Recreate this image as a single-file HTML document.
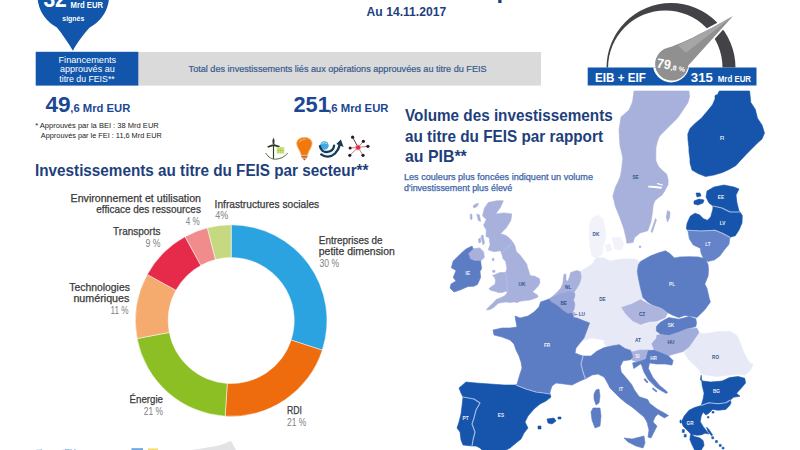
<!DOCTYPE html>
<html lang="fr"><head><meta charset="utf-8"><title>FEIS – Investissements par secteur et par pays</title>
<style>html,body{margin:0;padding:0;background:#fff}body{width:800px;height:450px;overflow:hidden}svg{display:block}</style>
</head><body>
<svg width="800" height="450" viewBox="0 0 800 450" font-family="'Liberation Sans', sans-serif">
<rect width="800" height="450" fill="#ffffff"/>
<g id="title">
<text x="238.00" y="-3.20" font-size="27" fill="#1e3f7c" font-weight="bold" textLength="347.00" lengthAdjust="spacingAndGlyphs">FEIS : les chiffres clés par État</text>
</g>
<text x="366.60" y="16.30" font-size="12" fill="#1e3f7c" font-weight="bold" textLength="79.60" lengthAdjust="spacingAndGlyphs">Au 14.11.2017</text>
<path d="M72.9,50.8 C69,44 63,35 56.9,27.5 A35.8,35.8 0 1 1 89.7,27.5 C83,35 76.5,43.5 72.9,50.8Z" fill="#1256ab"/>
<text x="43.40" y="7.00" font-size="23" fill="#fff" font-weight="bold" textLength="23.40" lengthAdjust="spacingAndGlyphs">32</text>
<text x="70.60" y="7.60" font-size="9" fill="#fff" font-weight="bold" textLength="32.40" lengthAdjust="spacingAndGlyphs">Mrd EUR</text>
<text x="62.30" y="21.30" font-size="7.5" fill="#fff" font-weight="bold" textLength="22.00" lengthAdjust="spacingAndGlyphs">signés</text>
<rect x="138" y="52" width="403" height="33.6" fill="#dadada"/>
<rect x="35.7" y="51.8" width="102.6" height="33.8" fill="#1256ab"/>
<text x="58.50" y="63.00" font-size="8.2" fill="#fff" font-weight="normal" textLength="57.70" lengthAdjust="spacingAndGlyphs">Financements</text>
<text x="60.00" y="72.20" font-size="8.2" fill="#fff" font-weight="normal" textLength="54.70" lengthAdjust="spacingAndGlyphs">approuvés au</text>
<text x="59.30" y="81.60" font-size="8.2" fill="#fff" font-weight="normal" textLength="55.40" lengthAdjust="spacingAndGlyphs">titre du FEIS**</text>
<text x="188.60" y="72.20" font-size="9" fill="#375a8f" font-weight="normal" textLength="298.00" lengthAdjust="spacingAndGlyphs" stroke="#375a8f" stroke-width="0.2">Total des investissements liés aux opérations approuvées au titre du FEIS</text>
<text x="45.50" y="112.20" font-size="22" fill="#1b4793" font-weight="bold" textLength="25.20" lengthAdjust="spacingAndGlyphs">49</text>
<text x="70.30" y="112.20" font-size="10.3" fill="#1b4793" font-weight="bold" textLength="60.00" lengthAdjust="spacingAndGlyphs">,6 Mrd EUR</text>
<text x="293.50" y="112.30" font-size="22" fill="#1b4793" font-weight="bold" textLength="36.30" lengthAdjust="spacingAndGlyphs">251</text>
<text x="328.20" y="112.30" font-size="10.3" fill="#1b4793" font-weight="bold" textLength="60.30" lengthAdjust="spacingAndGlyphs">,6 Mrd EUR</text>
<text x="35.20" y="128.00" font-size="6.8" fill="#222" font-weight="normal" textLength="123.60" lengthAdjust="spacingAndGlyphs">* Approuvés par la BEI : 38 Mrd EUR</text>
<text x="40.80" y="138.20" font-size="6.8" fill="#222" font-weight="normal" textLength="121.00" lengthAdjust="spacingAndGlyphs">Approuvés par le FEI : 11,6 Mrd EUR</text>
<g id="icons">
<path d="M273.5,144.6 V158.8" stroke="#2c3a28" stroke-width="1.15" fill="none"/>
<path d="M273.5,137.4 L274.6,140.6 L274.2,145 L272.8,145 L272.4,140.6Z M273.3,143.9 L267.4,146.3 L267.9,147.7 L273.7,145.9Z M273.7,143.9 L279.8,146.1 L279.3,147.5 L273.3,145.9Z" fill="#2c3a28"/>
<path d="M265.9,153.4 C268.5,157.5 272,159.3 275.5,159.2 C280.5,159 285,156.8 287.5,153.4" stroke="#4f6b3a" stroke-width="1" fill="none" stroke-linecap="round"/>
<rect x="276.6" y="147" width="7.8" height="6.6" fill="#d3e384"/><path d="M278.4,148.2 V153 M280.4,147.6 V153 M282.4,148.6 V153 M277,150.4 H284" stroke="#9fc24e" stroke-width=".6"/>
<path d="M304.3,137.4 C299.5,137.4 296.7,140.3 296.7,143.6 C296.7,147.2 300.3,150.5 301.3,155.3 L307.5,155.3 C308.5,150.5 312.1,147.2 312.1,143.6 C312.1,140.3 309.1,137.4 304.3,137.4Z" fill="#f0790f" stroke="#f9b876" stroke-width=".9"/>
<path d="M299.6,142 C300.6,140 303,139.2 305.4,139.5" stroke="#f7a85a" stroke-width="1.1" fill="none" stroke-linecap="round"/>
<path d="M301.2,156.3 H307.6 M301.8,157.8 H307" stroke="#b3500f" stroke-width="1"/><path d="M302.8,158.8 H306 L304.4,160.4Z" fill="#b3500f"/>
<circle cx="324.4" cy="145.5" r="4.3" fill="#3fa9e6"/><path d="M321.6,143.6 Q324.3,141.6 327,143.8" stroke="#bfe3f7" stroke-width=".9" fill="none"/>
<path d="M319.9,146.2 C320.5,150.6 324,152.4 327.5,151.9 C331,151.4 333.7,148.8 334.1,145.6" stroke="#173a57" stroke-width="2.3" fill="none" stroke-linecap="round"/>
<path d="M322,152.6 C326,154.9 331.3,154.2 335.2,150.4" stroke="#cfe9f8" stroke-width="1" fill="none"/>
<path d="M321.2,154.4 C325,157.6 331,157.3 335,153.5 C337.5,151 339,148 339.7,145" stroke="#173a57" stroke-width="2.4" fill="none" stroke-linecap="round"/>
<path d="M340.9,139.6 L336.3,143.9 L343.6,147.1Z" fill="#173a57"/>
<g stroke-width=".9"><path d="M358.1,147.4 L352.6,137.2" stroke="#3a2a2e"/><path d="M358.1,147.4 L363.4,141.3 M358.1,147.4 L367.9,146.3 M358.1,147.4 L363,155.3 M358.1,147.4 L349.8,155.3 M358.1,147.4 L350.1,148.1" stroke="#b9737b"/></g>
<circle cx="358.1" cy="147.4" r="2.9" fill="#f2a3ae"/><circle cx="358.1" cy="147.4" r="2.2" fill="#df2f48"/>
<circle cx="352.6" cy="137.2" r="1.6" fill="#2a1a20"/>
<circle cx="363.4" cy="141.3" r="1.6" fill="#2a1a20"/>
<circle cx="367.9" cy="146.3" r="1.6" fill="#2a1a20"/>
<circle cx="363" cy="155.3" r="1.6" fill="#2a1a20"/>
<circle cx="349.8" cy="155.3" r="1.6" fill="#2a1a20"/>
<circle cx="350.1" cy="148.1" r="1.5" fill="#2a1a20"/>
</g>
<text x="35.00" y="175.60" font-size="15.8" fill="#1e3f7c" font-weight="bold" textLength="333.50" lengthAdjust="spacingAndGlyphs">Investissements au titre du FEIS par secteur**</text>
<g id="donut" stroke="#ffffff" stroke-width="0.5">
<path d="M231.20,224.80 A95.8,95.8 0 0 1 322.31,350.20 L291.12,340.07 A63,63 0 0 0 231.20,257.60Z" fill="#2aa3e0"/>
<path d="M322.31,350.20 A95.8,95.8 0 0 1 225.18,416.21 L227.24,383.48 A63,63 0 0 0 291.12,340.07Z" fill="#ee6c0d"/>
<path d="M225.18,416.21 A95.8,95.8 0 0 1 137.10,338.55 L169.32,332.41 A63,63 0 0 0 227.24,383.48Z" fill="#8bbf24"/>
<path d="M137.10,338.55 A95.8,95.8 0 0 1 147.25,274.45 L175.99,290.25 A63,63 0 0 0 169.32,332.41Z" fill="#f6ab6e"/>
<path d="M147.25,274.45 A95.8,95.8 0 0 1 185.05,236.65 L200.85,265.39 A63,63 0 0 0 175.99,290.25Z" fill="#e62b4a"/>
<path d="M185.05,236.65 A95.8,95.8 0 0 1 207.38,227.81 L215.53,259.58 A63,63 0 0 0 200.85,265.39Z" fill="#f18c8c"/>
<path d="M207.38,227.81 A95.8,95.8 0 0 1 231.20,224.80 L231.20,257.60 A63,63 0 0 0 215.53,259.58Z" fill="#c6d880"/>
</g>
<text x="70.60" y="201.60" font-size="10.4" fill="#3a3a3a" font-weight="normal" textLength="130.40" lengthAdjust="spacingAndGlyphs" stroke="#3a3a3a" stroke-width="0.25">Environnement et utilisation</text>
<text x="96.30" y="213.00" font-size="10.4" fill="#3a3a3a" font-weight="normal" textLength="104.60" lengthAdjust="spacingAndGlyphs" stroke="#3a3a3a" stroke-width="0.25">efficace des ressources</text>
<text x="185.80" y="224.90" font-size="10.3" fill="#808080" font-weight="normal" textLength="14.00" lengthAdjust="spacingAndGlyphs">4 %</text>
<text x="113.10" y="235.40" font-size="10.4" fill="#3a3a3a" font-weight="normal" textLength="47.30" lengthAdjust="spacingAndGlyphs" stroke="#3a3a3a" stroke-width="0.25">Transports</text>
<text x="145.50" y="247.10" font-size="10.3" fill="#808080" font-weight="normal" textLength="14.90" lengthAdjust="spacingAndGlyphs">9 %</text>
<text x="69.30" y="291.00" font-size="10.4" fill="#3a3a3a" font-weight="normal" textLength="60.60" lengthAdjust="spacingAndGlyphs" stroke="#3a3a3a" stroke-width="0.25">Technologies</text>
<text x="73.40" y="302.30" font-size="10.4" fill="#3a3a3a" font-weight="normal" textLength="56.00" lengthAdjust="spacingAndGlyphs" stroke="#3a3a3a" stroke-width="0.25">numériques</text>
<text x="110.50" y="314.30" font-size="10.3" fill="#808080" font-weight="normal" textLength="18.00" lengthAdjust="spacingAndGlyphs">11 %</text>
<text x="129.50" y="402.50" font-size="10.4" fill="#3a3a3a" font-weight="normal" textLength="33.50" lengthAdjust="spacingAndGlyphs" stroke="#3a3a3a" stroke-width="0.25">Énergie</text>
<text x="143.80" y="414.50" font-size="10.3" fill="#808080" font-weight="normal" textLength="19.20" lengthAdjust="spacingAndGlyphs">21 %</text>
<text x="287.00" y="413.80" font-size="10.4" fill="#3a3a3a" font-weight="normal" textLength="15.00" lengthAdjust="spacingAndGlyphs" stroke="#3a3a3a" stroke-width="0.25">RDI</text>
<text x="287.00" y="425.80" font-size="10.3" fill="#808080" font-weight="normal" textLength="19.20" lengthAdjust="spacingAndGlyphs">21 %</text>
<text x="214.60" y="207.50" font-size="10.4" fill="#3a3a3a" font-weight="normal" textLength="104.60" lengthAdjust="spacingAndGlyphs" stroke="#3a3a3a" stroke-width="0.25">Infrastructures sociales</text>
<text x="215.20" y="219.20" font-size="10.3" fill="#808080" font-weight="normal" textLength="13.00" lengthAdjust="spacingAndGlyphs">4%</text>
<text x="318.80" y="243.60" font-size="10.4" fill="#3a3a3a" font-weight="normal" textLength="63.80" lengthAdjust="spacingAndGlyphs" stroke="#3a3a3a" stroke-width="0.25">Entreprises de</text>
<text x="318.80" y="254.60" font-size="10.4" fill="#3a3a3a" font-weight="normal" textLength="76.00" lengthAdjust="spacingAndGlyphs" stroke="#3a3a3a" stroke-width="0.25">petite dimension</text>
<text x="319.50" y="266.80" font-size="10.3" fill="#808080" font-weight="normal" textLength="19.50" lengthAdjust="spacingAndGlyphs">30 %</text>
<text x="405.00" y="121.40" font-size="16.6" fill="#1e3f7c" font-weight="bold" textLength="207.80" lengthAdjust="spacingAndGlyphs">Volume des investissements</text>
<text x="405.00" y="141.50" font-size="16.6" fill="#1e3f7c" font-weight="bold" textLength="198.00" lengthAdjust="spacingAndGlyphs">au titre du FEIS par rapport</text>
<text x="405.00" y="161.60" font-size="16.6" fill="#1e3f7c" font-weight="bold" textLength="61.80" lengthAdjust="spacingAndGlyphs">au PIB**</text>
<text x="404.00" y="179.70" font-size="9" fill="#3b65a6" font-weight="normal" textLength="189.00" lengthAdjust="spacingAndGlyphs" stroke="#3b65a6" stroke-width="0.25">Les couleurs plus foncées indiquent un volume</text>
<text x="404.00" y="190.50" font-size="9" fill="#3b65a6" font-weight="normal" textLength="108.30" lengthAdjust="spacingAndGlyphs" stroke="#3b65a6" stroke-width="0.25">d'investissement plus élevé</text>
<g id="map" stroke-linejoin="round">
<path d="M581,271 L586,268 L592.5,264 L596,258 L604,258 L610,261 L622,259 L635,259 L640,262 L639,265 L637,273 L639,281 L642,291 L644,299 L638,300 L630,304 L621,308 L627,316 L634,322 L642,325 L634,326 L629,332 L630,338 L626,343 L620,342 L614,344 L608,343 L604,340 L592,338 L581,341 L585,333 L587,323 L580,320 L576,317 L575,308 L574,299 L573,296 L576,287 L579,282 L581,275Z" fill="#e7e9f6" stroke="#e7e9f6" stroke-width="0.6"/>
<path d="M592,218 L598,215 L603,219 L605,228 L606,238 L603,246 L602,254 L597,258 L592,256 L590,246 L589,234 L590,224Z M605,245 L610,244 L612,250 L607,252Z M612,238 L620,237 L624,243 L621,250 L615,249Z" fill="#f1f2fa" stroke="#f1f2fa" stroke-width="0.6"/>
<path d="M604,340 L608,343 L614,344 L620,342 L626,343 L630,338 L629,332 L634,326 L642,325 L650,323 L658,322 L660,326 L657,330 L657,335 L655,338 L652,343 L654,348 L649,350 L640,350 L631,351 L625,348.5 L619.3,344.7 L612.7,345.7 L606,346 L604,343Z" fill="#e7e9f6" stroke="#e7e9f6" stroke-width="0.6"/>
<path d="M684.4,352.8 L690,346 L696.8,338.1 L699,333.5 L705.8,333.6 L719.3,331.4 L730.5,331.4 L737.3,335.9 L740.6,343.8 L744,352.8 L749.6,362.9 L753,364 L750.8,369.6 L745.1,375.3 L737.3,374.1 L728.3,375.3 L717,376.4 L708,375.3 L701.3,374.1 L699,369.6 L693.4,364 L687.8,358.4Z" fill="#e7e9f6" stroke="#e7e9f6" stroke-width="0.6"/>
<path d="M634,91 L689,91 L689.5,97 L688,102.5 L683,110 L677.6,118 L672,123.5 L667.5,128 L663,132.5 L659.6,136 L657.5,141 L656,147.5 L655.8,154 L656,161 L658.5,166.5 L663,171 L666.6,174 L668.2,180 L668,184.5 L664.4,191.5 L662,195 L658,198 L655,200.5 L653.2,205 L652.4,212.8 L650.9,222.1 L647.8,230.7 L640,233 L634.5,237.7 L633,242.6 L626.8,243.2 L626,237.7 L623.7,228.3 L619.8,217.4 L615.2,206 L614.2,201 L612.8,196.5 L613.5,193.8 L615.5,187 L618,182 L620.5,176 L621.5,170 L622.3,163 L622.8,158 L621.5,152 L620,146 L619,130 L621,117 L629,110 L632.5,102Z M667.5,210.5 L670,212 L669.5,218 L667.5,222 L666.3,217Z M655.5,218.5 L656.4,220 L652.2,232.5 L651,231.5Z M639.2,246 L640.8,246 L640.8,247.6 L639.2,247.6Z" fill="#a8b1dc" stroke="#a8b1dc" stroke-width="0.6"/>
<path d="M719.3,91 L749.6,91 L750.8,102.5 L755.3,109.3 L757.5,118.3 L762,125 L764.5,133 L762,139 L757.5,143 L752,148.5 L746.3,154.3 L740,161 L736,165.5 L729,169.5 L722.5,172.5 L714,175 L705.5,176.5 L698,173.5 L692,170 L690,163 L690,158.8 L689,152 L688.9,147.5 L688,140 L687.8,134 L690,128.4 L695,123.5 L701.3,118.3 L707,111.5 L712.5,104.8 L715,99 L715,95.5 L717.5,94.5Z" fill="#1655ab" stroke="#1655ab" stroke-width="0.6"/>
<path d="M707,191 L714,187 L724,185 L734,187 L739,189 L736,195 L737,203 L739,211 L740,212 L730,212 L722,208 L713,206 L709,203 L706,197Z M696,193 L700,193 L701,196 L697,197Z M694,201 L699,199 L704,200 L703,203 L698,205 L694,204Z" fill="#1655ab" stroke="#1655ab" stroke-width="0.6"/>
<path d="M713,206 L722,208 L730,212 L740,212 L742.3,215.5 L742,223 L739,230 L735.3,235.8 L729.9,237.3 L722.9,233.4 L715,230.3 L701,231 L687.9,230.3 L686.3,228.8 L687.1,223.3 L690.2,216.3 L694.9,213.2 L699.5,214.8 L703.4,218.7 L707.3,220.2 L710.7,217.1 L712.8,209.3Z" fill="#1655ab" stroke="#1655ab" stroke-width="0.6"/>
<path d="M687.9,230.3 L701,231 L715,230.3 L722.9,233.4 L729.9,237.3 L729,244.3 L724.4,249.8 L719.8,256 L714.3,259.9 L708,261.4 L703.4,258.3 L701,252.9 L700.3,248.2 L693.3,245 L689.4,238.9Z" fill="#6583c8" stroke="#6583c8" stroke-width="0.6"/>
<path d="M640.6,261.4 L650.8,255.8 L658,253 L665.4,250.8 L669.9,253.5 L674.4,258 L680,256.9 L689,256.7 L698,256.9 L703.4,258.3 L705.9,259.5 L708.1,264.8 L708.5,270 L708.1,276 L704.8,283.9 L707,288.4 L709.3,298.5 L710.4,301.9 L704.8,309.8 L696.9,317.6 L692.4,316.5 L684.5,315.4 L678.9,317.6 L673.3,315.4 L666.5,312 L659.8,307.5 L653,305.3 L647.4,301.9 L642.9,297.4 L640.6,288.4 L638.4,278.3 L637.3,271.5 L638.4,264.8Z" fill="#5c7cc4" stroke="#5c7cc4" stroke-width="0.6"/>
<path d="M621.5,307.5 L631.6,304.1 L640.6,299.6 L648.5,304.1 L655.3,306.4 L662,308.6 L667.6,313.1 L665.4,317.6 L657.5,321 L648.5,322.1 L640.6,324.4 L632.8,321 L626,314.3Z" fill="#adb5de" stroke="#adb5de" stroke-width="0.6"/>
<path d="M656.4,326.6 L660,322.5 L664.3,319.9 L668.8,317.6 L678.9,319.2 L689,316.5 L695.8,318.8 L696.5,323 L695.8,326.6 L686.8,328.9 L678.9,332.3 L668.8,335.6 L660.9,334.5 L656.4,331.1Z" fill="#5c7cc4" stroke="#5c7cc4" stroke-width="0.6"/>
<path d="M651.8,343.8 L656.3,338.1 L657,335 L660.9,334.5 L668.8,335.6 L678.9,332.3 L686.8,328.9 L696.8,328 L699,332.5 L694.5,339.3 L688.9,347.1 L683.3,351.6 L674.3,353.9 L667.5,356.1 L660.8,352.8 L654,349.4Z" fill="#a2acdb" stroke="#a2acdb" stroke-width="0.6"/>
<path d="M631,352 L640,350 L649,350 L648,354 L644,360 L637,362 L632,360Z" fill="#a8b1dc" stroke="#a8b1dc" stroke-width="0.6"/>
<path d="M648.4,350.5 L654,350 L660.8,352.8 L668.6,356.1 L673.1,360.6 L672,365.1 L665.3,364 L656.3,364 L649.5,362.9 L648.4,368.5 L652.9,377.5 L659.6,385.4 L667.5,392.1 L666.5,393.5 L661,390.5 L656.3,387.6 L648.4,379.8 L643.9,371.9 L641.6,365.1 L640.5,364 L637.1,366.3 L633.8,368.5 L632.6,362.9 L637,362 L644,360 L646,358.4Z M645,378.5 L648,382 L647,383 L644,379.5Z M653,388 L657,391 L656.3,392 L652.4,389Z" fill="#5c7cc4" stroke="#5c7cc4" stroke-width="0.6"/>
<path d="M701.2,375.2 L700.4,380 L703.1,381.1 L710.7,382 L722,381.1 L729.6,377.6 L738.1,376.5 L744.7,378.2 L745.6,382.9 L740.9,388.6 L736.5,393.3 L740,396.2 L733.4,397.3 L730.5,400 L725.8,402.8 L718.2,403.7 L708.8,402.8 L701.2,405.6 L703.1,399 L704.1,393.3 L702.2,385.8Z" fill="#1655ab" stroke="#1655ab" stroke-width="0.6"/>
<path d="M701.2,405.6 L708.8,402.8 L718.2,403.7 L725.8,402.8 L730.5,400 L731,403 L729.6,405.6 L725.8,409.4 L718.2,410.3 L712.6,409.4 L710.5,411.5 L708.8,413.2 L706,415.1 L703.1,412.2 L701.2,416 L700.3,421.7 L703.1,426.4 L706,430.2 L708.8,434 L705,433.3 L701.2,434.9 L697,435.2 L692,434.6 L694.5,436.6 L699.4,437.7 L703.1,440.6 L704.1,445.3 L701.2,450 L694.6,450 L691.8,444.3 L689.9,439.6 L690.2,436.5 L690.8,434 L687.1,430.2 L683.3,426.4 L681.4,421.7 L684.2,416 L689,410.3 L694.6,407.5Z M706.5,427 L709,429.5 L712.6,435 L711.5,435.8 L708,431.5Z M711.8,436.8 L713.6,436.8 L713.6,438.8 L711.8,438.8Z M715.5,440.6 L717.4,440.6 L717.4,442.6 L715.5,442.6Z M719.3,444.4 L721.2,444.4 L721.2,446.4 L719.3,446.4Z M722.2,447.2 L724,447.2 L724,449 L722.2,449Z M712,411.5 L714,411.5 L714,413 L712,413Z M707.5,416.5 L709,416.5 L709,418 L707.5,418Z M682.3,429.6 L684.3,429.6 L684.3,432.4 L682.3,432.4Z M684.2,434.4 L686.2,434.4 L686.2,437 L684.2,437Z M680,420 L681,420 L681,423 L680,423Z" fill="#1655ab" stroke="#1655ab" stroke-width="0.6"/>
<path d="M570.7,272.5 L577,270.4 L580.5,271.8 L581.2,277.4 L579.8,283 L577,287.9 L574.2,292.1 L574.9,294.2 L574.2,298.4 L573,296 L572.1,292.1 L567.2,292.1 L560.2,293.5 L554.6,296.3 L549,299.1 L553.9,295.3 L558.1,291.3 L560.9,287.9 L563,283 L563.3,278 L564.2,273.9 L566,274.3 L566,280 L567.9,281.2 L569.3,277.4Z" fill="#a8b1dc" stroke="#a8b1dc" stroke-width="0.6"/>
<path d="M549,299.1 L554.6,296.3 L560.2,293.5 L567.2,292.1 L572.1,292.1 L574.9,294.2 L573.5,299.8 L574.9,304 L574.2,309.6 L572.1,313.1 L567.9,313.8 L563.7,311 L558.8,306.8 L554.6,304 L551.1,301.9Z" fill="#98a4d8" stroke="#98a4d8" stroke-width="0.6"/>
<path d="M572.1,313.1 L574.5,311.8 L575.6,315.3 L573.2,317.3Z" fill="#a8b1dc" stroke="#a8b1dc" stroke-width="0.6"/>
<path d="M540.6,301.9 L545,300.5 L549,299.1 L551.1,301.9 L554.6,304 L558.8,306.8 L563.7,311 L567.9,313.8 L572.1,313.1 L573.2,317.3 L577,318 L583,320.5 L589.6,322.9 L587,330 L584,338 L580,343 L576,348 L575,353 L580,355 L583,356 L581,364 L583,372 L585,378 L587,378 L580,381 L572,385 L564,384 L556,383 L552,386 L550,392 L550,394 L544,393 L536,392 L526,389 L516,385 L517,384 L520,374 L522,368 L521,362 L519,356 L516,350 L514,344 L510,340 L502,337 L494,335 L493,330 L502,328 L510,328 L517,327 L516,322 L515,316 L520,318 L528,316 L534,312 L539,307Z M596,390 L599,389 L600,396 L599,403 L596,405 L594,399 L594,394Z" fill="#5c7cc4" stroke="#5c7cc4" stroke-width="0.6"/>
<path d="M582.5,356 L591,356 L596.7,351.3 L604.2,347.6 L612.7,345.7 L619.3,344.7 L625,348.5 L630.7,350.4 L632.6,357 L630.7,359.8 L623.1,360.8 L620.3,366.4 L621.2,372.1 L626.9,378.7 L631.6,384.4 L634.5,390.1 L639.2,396.7 L647.7,399.5 L649.6,403.3 L657.1,409 L665.6,413.7 L668.5,415.6 L664.4,417.9 L658,414 L655,417 L653,422 L657,426 L654,432 L651,438 L648,437 L649,430 L647,422 L644,417 L638,412 L632,407 L626,403 L620,398 L615,393 L610,388 L607,382 L604,377 L598,374 L592,375 L587,378 L585,378 L583,372 L581,364Z M593,408 L600,408 L601,416 L600,426 L595,428 L592,420 L591,412Z M624,438 L632,439 L644,436 L645,443 L643,448 L636,446 L628,442Z" fill="#5c7cc4" stroke="#5c7cc4" stroke-width="0.6"/>
<path d="M459,388 L466,382 L476,383 L490,384 L504,385 L516,385 L526,389 L536,392 L544,393 L550,394 L551,397 L546,401 L540,404 L534,409 L528,416 L525,422 L528,428 L524,433 L521,439 L516,443 L510,448 L506,450 L482,450 L480,448 L476,446 L472,446 L463,445 L461,440 L460,432 L457,428 L459,422 L461,414 L462,406 L463,397 L461,393Z M547,419 L554,418 L556,421 L552,424 L548,423Z M558,417 L561,417 L561,419 L558,419Z M538,426 L541,426 L541,429 L538,429Z" fill="#1655ab" stroke="#1655ab" stroke-width="0.6"/>
<path d="M488.2,202.6 L496.7,200.7 L503.3,200.7 L500.5,207.3 L495.7,213.9 L504.2,212.9 L511.8,213.9 L510.8,220.5 L506.1,228.1 L500.5,233.7 L506.1,235.6 L510.8,239.4 L514.6,245.1 L516.5,251.7 L520,255 L523.8,260 L526.9,264.4 L527.5,267.5 L528.8,271.3 L530,275.6 L535,276.3 L539.4,278.8 L540,282.5 L538.1,286.3 L535,289.4 L532.5,291.9 L537.5,295 L538.1,296.9 L533.8,298.8 L530,300 L525,300.6 L520,301.3 L517.5,302.5 L513.8,301.9 L510,302.5 L506.3,301.9 L502.5,302.5 L498.8,303.1 L496.3,305 L493.8,307.5 L490,309.4 L486.3,310 L488.8,306.9 L493.1,303.1 L496.3,299.4 L501.3,297.5 L505,295.6 L507.5,292.5 L505.6,291.3 L502.5,292.5 L498.1,292.5 L495,291.3 L491.3,290.6 L488.8,288.8 L491.9,286.3 L495,284.4 L495.6,280 L494.4,276.9 L492.5,275.6 L496.9,273.8 L500,272.5 L505.6,272.5 L506.9,268.8 L506.3,265 L505.6,261.3 L503.1,258.8 L502.3,255.5 L500.5,250.7 L493.8,251.7 L488.2,249.8 L490.1,245.1 L489.1,237.5 L486,236.5 L486.3,230 L483.5,225.2 L486.3,219.6 L482.5,215.8 L484.4,208.2Z M468.3,253.6 L473,248.8 L479.7,247.9 L483.5,251.7 L484.4,257.3 L480.6,261.1 L475,261.1 L470.2,259.2Z M473,206 L475.5,204 L478.7,203.5 L477,206.5 L474,208Z M470.2,214 L472,214.5 L472,219.6 L470.4,219Z M476.8,214 L479.5,215 L480.6,221.5 L478.3,220.5Z M481,236 L483,235 L484.5,243 L483,245Z M478.5,239 L480.5,238 L481,242 L479,243Z M492.3,258.4 L494,258.4 L494,260.6 L492.3,260.6Z M492.6,270.4 L495,270.4 L495,272.2 L492.6,272.2Z" fill="#a8b1dc" stroke="#a8b1dc" stroke-width="0.6"/>
<path d="M462.7,251.7 L466.4,248.8 L472.1,246 L473,248.8 L468.3,253.6 L470.2,259.2 L475,261.1 L480.6,261.1 L481.6,268.7 L480,271.3 L480.6,277.5 L477.5,284.4 L473.8,286.3 L468,286.5 L460,290 L454,292 L450,288 L451,284 L456,281 L453.2,277.5 L454.5,274 L456.1,270.6 L451.3,267.7 L453.2,261.1 L458.9,255.5Z" fill="#5c7cc4" stroke="#5c7cc4" stroke-width="0.6"/>
<path d="M687.9,230.3 L701,231 L715,230.3 L722.9,233.4 L729.9,237.3" fill="none" stroke="#a9bfe9" stroke-width="1.1"/>
<path d="M713,206 L722,208 L730,212 L740,212" fill="none" stroke="#a9bfe9" stroke-width="1.1"/>
<path d="M701.2,405.6 L708.8,402.8 L718.2,403.7 L725.8,402.8 L730.5,400" fill="none" stroke="#a9bfe9" stroke-width="1.1"/>
<path d="M463,397 L474,399 L480,403 L476,410 L474,418 L472,424 L475,432 L473,440 L472,446" fill="none" stroke="#a9bfe9" stroke-width="1.1"/>
<path d="M583,356 L581,364 L583,372 L585,378 L587,378" fill="none" stroke="#a9bfe9" stroke-width="1.1"/>
<path d="M516,385 L526,389 L536,392 L544,393 L550,394" fill="none" stroke="#a9bfe9" stroke-width="1.1"/>
<path d="M506,273 L507,283 L507.5,292" fill="none" stroke="#a9bfe9" stroke-width="1.1"/>
<path d="M502.3,252.5 L507,248 L511.8,243.2" fill="none" stroke="#a9bfe9" stroke-width="1.1"/>
<path d="M649,186.6 L655,187 L661,187.8" fill="none" stroke="#ffffff" stroke-width="1.9" stroke-linecap="round"/>
<path d="M657.5,183.6 L662.5,185" fill="none" stroke="#ffffff" stroke-width="1.1" stroke-linecap="round"/>
<text x="635.6" y="179.3" font-size="4.7" font-weight="bold" fill="#1e4a86" text-anchor="middle" opacity=".9">SE</text>
<text x="722" y="139.8" font-size="4.7" font-weight="bold" fill="#fff" text-anchor="middle" opacity=".9">FI</text>
<text x="721" y="198.8" font-size="4.7" font-weight="bold" fill="#fff" text-anchor="middle" opacity=".9">EE</text>
<text x="722.6" y="224.8" font-size="4.7" font-weight="bold" fill="#fff" text-anchor="middle" opacity=".9">LV</text>
<text x="708" y="245.8" font-size="4.7" font-weight="bold" fill="#fff" text-anchor="middle" opacity=".9">LT</text>
<text x="672" y="285.8" font-size="4.7" font-weight="bold" fill="#fff" text-anchor="middle" opacity=".9">PL</text>
<text x="642" y="316.40000000000003" font-size="4.7" font-weight="bold" fill="#1e4a86" text-anchor="middle" opacity=".9">CZ</text>
<text x="671" y="326.8" font-size="4.7" font-weight="bold" fill="#fff" text-anchor="middle" opacity=".9">SK</text>
<text x="671" y="343.8" font-size="4.7" font-weight="bold" fill="#1e4a86" text-anchor="middle" opacity=".9">HU</text>
<text x="638" y="342.40000000000003" font-size="4.7" font-weight="bold" fill="#1e4a86" text-anchor="middle" opacity=".9">AT</text>
<text x="637.4" y="358.40000000000003" font-size="4.7" font-weight="bold" fill="#fff" text-anchor="middle" opacity=".9">SI</text>
<text x="653.6" y="359.8" font-size="4.7" font-weight="bold" fill="#fff" text-anchor="middle" opacity=".9">HR</text>
<text x="715.6" y="359.2" font-size="4.7" font-weight="bold" fill="#1e4a86" text-anchor="middle" opacity=".9">RO</text>
<text x="716.5" y="392.8" font-size="4.7" font-weight="bold" fill="#fff" text-anchor="middle" opacity=".9">BG</text>
<text x="690" y="425.40000000000003" font-size="4.7" font-weight="bold" fill="#fff" text-anchor="middle" opacity=".9">GR</text>
<text x="602.5" y="300.8" font-size="4.7" font-weight="bold" fill="#1e4a86" text-anchor="middle" opacity=".9">DE</text>
<text x="596" y="236.3" font-size="4.7" font-weight="bold" fill="#1e4a86" text-anchor="middle" opacity=".9">DK</text>
<text x="568.2" y="289.0" font-size="4.7" font-weight="bold" fill="#1e4a86" text-anchor="middle" opacity=".9">NL</text>
<text x="563.7" y="305.1" font-size="4.7" font-weight="bold" fill="#1e4a86" text-anchor="middle" opacity=".9">BE</text>
<text x="581.8" y="315.8" font-size="4.7" font-weight="bold" fill="#1e4a86" text-anchor="middle" opacity=".9">LU</text>
<text x="547" y="347.3" font-size="4.7" font-weight="bold" fill="#fff" text-anchor="middle" opacity=".9">FR</text>
<text x="621" y="390.8" font-size="4.7" font-weight="bold" fill="#fff" text-anchor="middle" opacity=".9">IT</text>
<text x="501" y="416.8" font-size="4.7" font-weight="bold" fill="#fff" text-anchor="middle" opacity=".9">ES</text>
<text x="465.6" y="419.8" font-size="4.7" font-weight="bold" fill="#fff" text-anchor="middle" opacity=".9">PT</text>
<text x="521.9" y="285.8" font-size="4.7" font-weight="bold" fill="#1e4a86" text-anchor="middle" opacity=".9">UK</text>
<text x="467.8" y="274.5" font-size="4.7" font-weight="bold" fill="#fff" text-anchor="middle" opacity=".9">IE</text>
<path d="M575.2,314.5 H577.4" stroke="#1e4a86" stroke-width=".6"/>
</g>
<g id="gauge">
<path d="M606.5,67.6 A64.5,64.5 0 0 1 735.5,67.6 L722.5,67.6 A57.2,57.2 0 0 0 608.1,67.6Z" fill="#434347"/>
<path d="M667,48.1 C680,44.5 700,34.5 732.8,16.3 L688.3,65.5 A16.6,16.6 0 1 1 667,48.1Z" fill="#fff" stroke="#fff" stroke-width="3.4" stroke-linejoin="round"/>
<rect x="587.7" y="67.5" width="168.8" height="18" fill="#1256ab"/>
<circle cx="671.1" cy="64.2" r="18.2" fill="#fff" clip-path="url(#below)"/>
<path d="M667,48.1 C680,44.5 700,34.5 732.8,16.3 L688.3,65.5 A16.6,16.6 0 1 1 667,48.1Z" fill="#909090"/>
<path d="M732.8,16.3 C700,34.5 690,40 678,45.4 L686,52.8Z" fill="#a6a6a6"/>
<g transform="rotate(9 671 65)">
<text x="656.80" y="69.80" font-size="13.5" fill="#fff" font-weight="bold" textLength="14.00" lengthAdjust="spacingAndGlyphs">79</text>
<text x="671.00" y="69.80" font-size="7" fill="#fff" font-weight="bold" textLength="14.50" lengthAdjust="spacingAndGlyphs">,8 %</text>
</g>
<text x="595.00" y="81.80" font-size="13.4" fill="#fff" font-weight="bold" textLength="50.80" lengthAdjust="spacingAndGlyphs">EIB + EIF</text>
<text x="690.80" y="81.80" font-size="13.4" fill="#fff" font-weight="bold" textLength="22.00" lengthAdjust="spacingAndGlyphs">315</text>
<text x="717.80" y="81.80" font-size="8.7" fill="#fff" font-weight="bold" textLength="33.20" lengthAdjust="spacingAndGlyphs">Mrd EUR</text>
</g>
<g id="footer">
<text x="35.00" y="456.60" font-size="11" fill="#8dbde8" font-weight="bold" textLength="41.00" lengthAdjust="spacingAndGlyphs">#investEU</text>
<rect x="131.5" y="448.2" width="11.5" height="4" fill="#6aa5e0"/><rect x="148" y="448.4" width="10" height="4" fill="#f5dc6a"/>
<path d="M191,450 C205,448 222,446 229,441.5 L231,441 L236,450Z" fill="#e3e3e6"/>
</g>
<defs><clipPath id="below"><rect x="640" y="67.5" width="70" height="30"/></clipPath></defs>
</svg>
</body></html>
